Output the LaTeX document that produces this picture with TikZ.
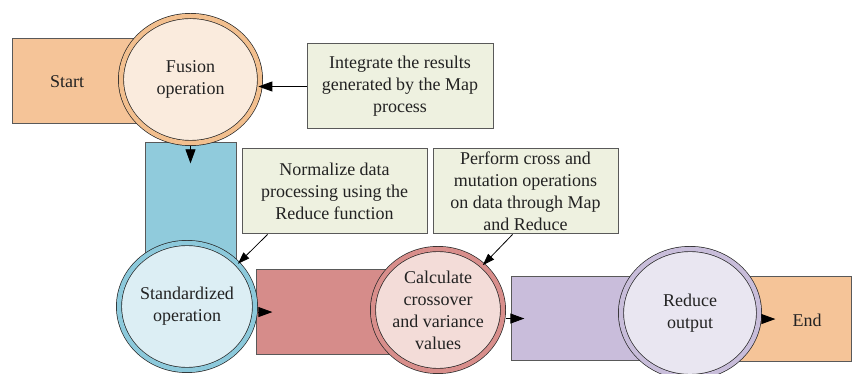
\documentclass[tikz,border=0pt]{standalone}
\usepackage{fontspec}
\setmainfont{Liberation Serif}
\usetikzlibrary{shapes.geometric,arrows.meta,calc}
\definecolor{orng}{HTML}{F5C498}
\definecolor{orngring}{HTML}{F2BF8E}
\definecolor{orngin}{HTML}{FAEBDD}
\definecolor{blu}{HTML}{90CBDC}
\definecolor{bluring}{HTML}{8CC9DB}
\definecolor{bluin}{HTML}{DCEEF4}
\definecolor{redd}{HTML}{D68C8A}
\definecolor{redring}{HTML}{D88E8B}
\definecolor{redin}{HTML}{F3DCD8}
\definecolor{purp}{HTML}{C9BDDB}
\definecolor{purpring}{HTML}{C8BDDA}
\definecolor{purpin}{HTML}{E9E6F1}
\definecolor{boxg}{HTML}{EEF1E0}
\definecolor{txt}{HTML}{222222}
\begin{document}
\begin{tikzpicture}[x=1pt,y=1pt,
  font=\fontsize{18}{22}\selectfont, text=txt,
  rbox/.style={draw=black!65, line width=0.9pt, anchor=south west, inner sep=0},
  tbox/.style={draw=black!65, line width=1pt, fill=boxg, align=center, inner sep=0},
  ring/.style={ellipse, draw=black!85, line width=0.7pt, double distance=4.5pt, align=center, inner sep=0},
  arr/.style={-{Triangle[length=14pt,width=10pt]}, line width=0.8pt, draw=black},
  arrs/.style={-{Triangle[length=12pt,width=8pt]}, line width=0.8pt, draw=black}]
\useasboundingbox (0,0) rectangle (853,374);
% flow rectangles
\node[rbox, fill=orng, minimum width=128, minimum height=85] (start) at (12,250) {};
\node (starttxt) at (67,292) {Start};
\node[rbox, fill=blu, minimum width=91, minimum height=131] (bl) at (145,100) {};
\node[rbox, fill=redd, minimum width=154, minimum height=85] (rd) at (256,19) {};
\node[rbox, fill=purp, minimum width=129, minimum height=84] (pu) at (511,13) {};
\node[rbox, fill=orng, minimum width=131, minimum height=85] (en) at (720,12) {};
\node (endtxt) at (807,54) {End};
% circles
\node[ring, double=orngring, fill=orngin, minimum width=139, minimum height=127] (fus) at (190.5,294.5) {Fusion\\operation};
\node[ring, double=bluring, fill=bluin, minimum width=136, minimum height=127] (std) at (187,67.5) {Standardized\\operation};
\node[ring, double=redring, fill=redin, minimum width=130, minimum height=122] (calc) at (438,64) {Calculate\\crossover\\and variance\\values};
\node[ring, double=purpring, fill=purpin, minimum width=138, minimum height=128] (red) at (690,61) {Reduce\\output};
% flow arrowheads
\draw[arr, shorten <=3pt] (fus.south) -- ++(0,-20);
\draw[arr, shorten <=3pt] (std.east |- rd.center) -- ++(17,0);
\draw[arr, shorten <=3pt] (calc.east |- pu.center) -- ++(21,0);
\draw[arr, shorten <=3pt] (red.east |- en.center) -- ++(16,0);
% text boxes
\node[tbox, minimum width=186, minimum height=85] (intg) at (400,287.5) {Integrate the results\\generated by the Map\\process};
\node[tbox, minimum width=185, minimum height=85] (norm) at (334.5,182.5) {Normalize data\\processing using the\\Reduce function};
\node[tbox, minimum width=185, minimum height=85] (perf) at (525.5,182.5) {Perform cross and\\mutation operations\\on data through Map\\and Reduce};
% connectors
\draw[arr, shorten >=-2pt] (intg.west) -- (intg.west -| fus.east);
\draw[arrs] ($(norm.south west)+(26,0)$) -- (std.40);
\draw[arrs] ($(perf.south west)+(80,0)$) -- (calc.45);
\end{tikzpicture}
\end{document}
